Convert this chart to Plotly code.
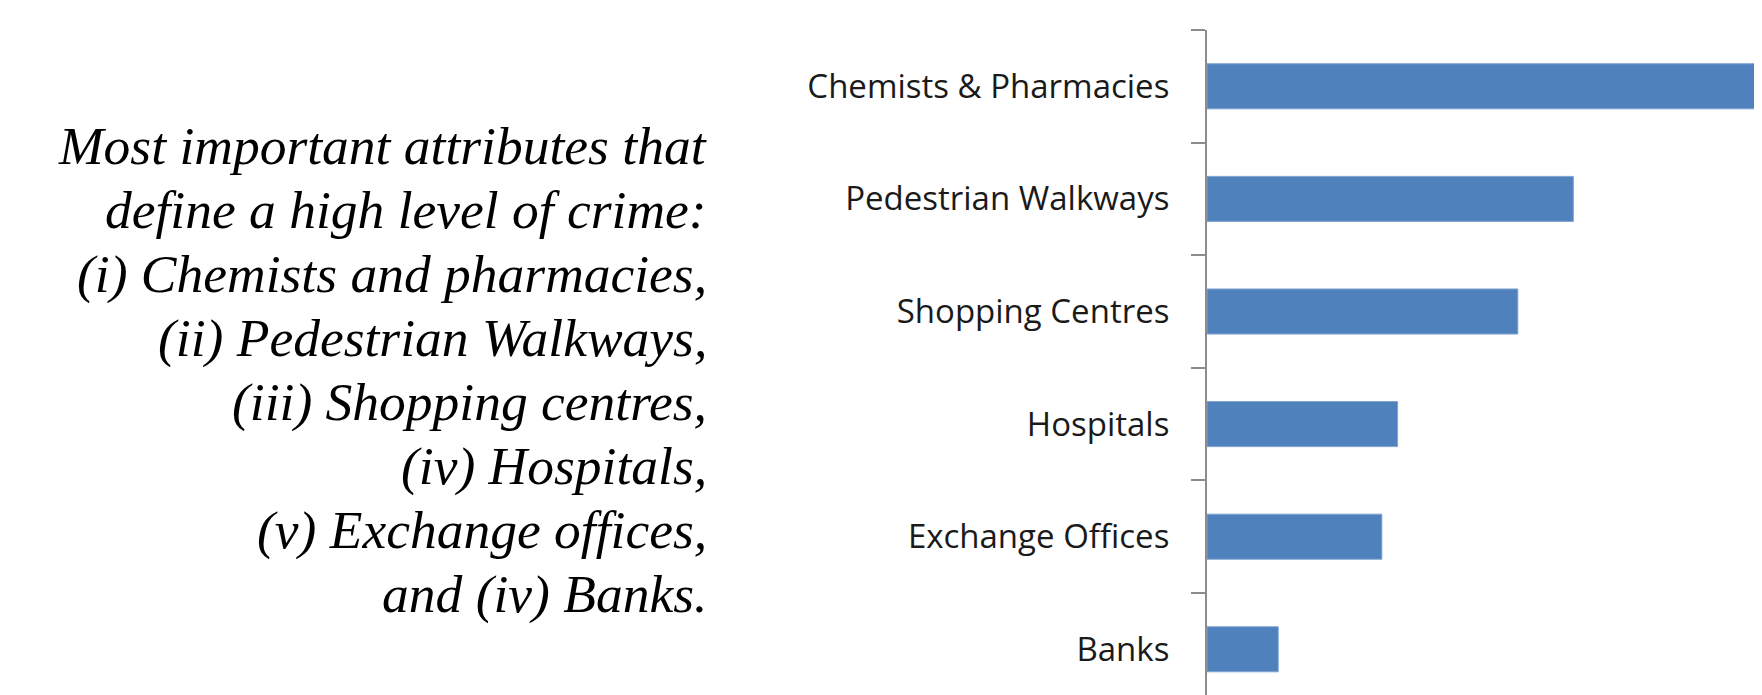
import plotly.graph_objects as go

categories = ["Chemists & Pharmacies", "Pedestrian Walkways", "Shopping Centres",
              "Hospitals", "Exchange Offices", "Banks"]
values = [32.0, 19.8, 16.8, 10.3, 9.45, 3.85]

text_lines = [
    "Most important attributes that",
    "define a high level of crime:",
    "(i) Chemists and pharmacies,",
    "(ii) Pedestrian Walkways,",
    "(iii) Shopping centres,",
    "(iv) Hospitals,",
    "(v) Exchange offices,",
    "and (iv) Banks.",
]

W, H = 1762, 695
ML, MT = 1199, 22
PW, PH = W - ML, H - MT

fig = go.Figure(go.Bar(
    x=values, y=categories, orientation="h",
    marker=dict(color="#4F81BD", line=dict(color="#7FA3D1", width=1)),
))

def px_x(x):
    return (x - ML) / PW

def px_y(y):
    return (H - y) / PH

first_y, step = 138, 64
for i, t in enumerate(text_lines):
    fig.add_annotation(
        text=t, xref="paper", yref="paper",
        x=px_x(700.5), y=px_y(first_y + i * step),
        xanchor="right", yanchor="middle", showarrow=False,
        font=dict(family="Liberation Serif", size=53.5, color="black", style="italic"),
    )

fig.update_layout(
    width=W, height=H,
    margin=dict(l=ML, r=0, t=MT, b=0, pad=0),
    paper_bgcolor="white", plot_bgcolor="white",
    bargap=0.6, showlegend=False,
    xaxis=dict(range=[0, 30.43], visible=False, showgrid=False, zeroline=False),
    yaxis=dict(
        type="category", categoryorder="array", categoryarray=categories,
        range=[5.477, -0.5], showline=True, linecolor="#8C8C8C", linewidth=2,
        ticks="outside", tickson="boundaries", ticklen=14, tickwidth=2,
        tickcolor="#8C8C8C", showgrid=False, zeroline=False,
        tickfont=dict(family="Open Sans", size=33, color="#1a1a1a"),
        ticklabelstandoff=29,
    ),
)

fig.write_html("out.html")
